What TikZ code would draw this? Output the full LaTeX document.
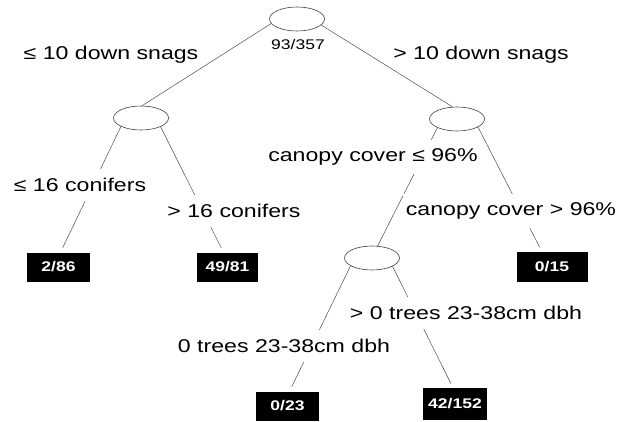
\documentclass[tikz,border=0pt]{standalone}
\usepackage{fontspec}
\setmainfont{Liberation Sans}[FakeStretch=1.25]
\usetikzlibrary{shapes.geometric}
\begin{document}
\begin{tikzpicture}[x=1pt,y=-1pt,
  split/.style={ellipse,draw=black!75,line width=0.6pt,minimum width=55pt,minimum height=24pt,inner sep=0pt},
  leaf/.style={fill=black,text=white,font=\fontsize{14}{14}\selectfont\bfseries,minimum width=63pt,minimum height=29pt,inner sep=0pt},
  lab/.style={fill=white,font=\fontsize{18.5}{18.5}\selectfont,inner xsep=3pt,inner ysep=9pt},
  toplab/.style={font=\fontsize{18.5}{18.5}\selectfont,inner sep=0pt},
  edge/.style={draw=black!70,line width=0.5pt,shorten >=5pt}]
\useasboundingbox (0,0) rectangle (623,421);
% nodes
\node[split] (root) at (297,19) {};
\node[font=\fontsize{14}{14}\selectfont] (cnt) at (298,44) {93/357};
\node[split] (L) at (141,118) {};
\node[split] (R) at (457,119) {};
\node[split] (M) at (372,258) {};
\node[leaf] (l1) at (58.5,267) {2/86};
\node[leaf,minimum width=61pt] (l2) at (227.5,267) {49/81};
\node[leaf,minimum width=71pt,minimum height=30pt] (l3) at (552,267) {0/15};
\node[leaf] (l4) at (287.5,406) {0/23};
\node[leaf,minimum width=64pt,minimum height=32pt] (l5) at (455,404) {42/152};
% edges
\draw[edge,shorten >=0pt] (root.190) -- (L.85);
\draw[edge,shorten >=0pt] (root.346) -- (R.110);
\draw[edge] (L.203) -- ([xshift=2pt]l1.north);
\draw[edge] (L.336) -- ([xshift=-4pt]l2.north);
\draw[edge,shorten >=0pt] (R.204) -- (M.65);
\draw[edge] (R.339) -- ([xshift=-10pt]l3.north);
\draw[edge] (M.200) -- ([xshift=2pt]l4.north);
\draw[edge] (M.338) -- ([xshift=-2pt]l5.north);
% labels
\node[toplab] (t1) at (111,55) {≤ 10 down snags};
\node[toplab] (t2) at (481,55) {> 10 down snags};
\node[lab] (t3) at (80,185) {≤ 16 conifers};
\node[lab] (t4) at (234,211) {> 16 conifers};
\node[lab] (t5) at (373,157) {canopy cover ≤ 96\%};
\node[lab] (t6) at (511,211) {canopy cover > 96\%};
\node[lab] (t7) at (466,313) {> 0 trees 23-38cm dbh};
\node[lab] (t8) at (284,346) {0 trees 23-38cm dbh};
\end{tikzpicture}
\end{document}
